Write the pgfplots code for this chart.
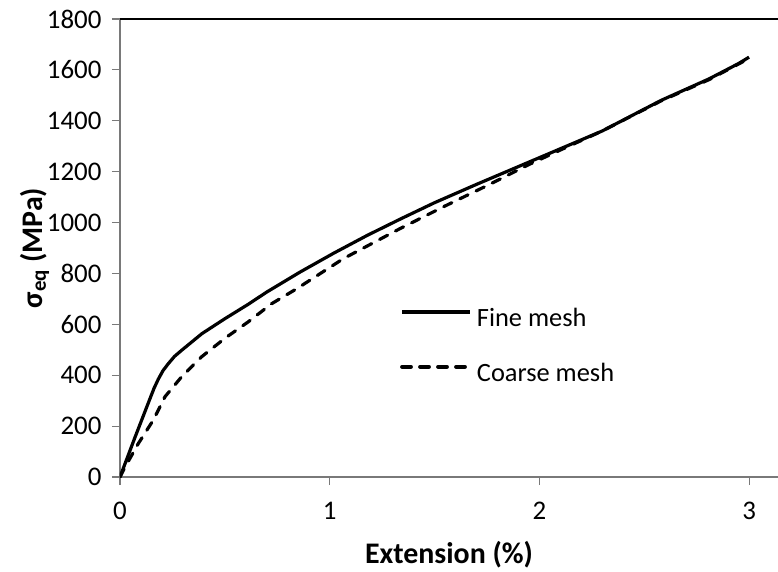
\documentclass[border=0pt]{standalone}
\usepackage{pgfplots}
\pgfplotsset{compat=1.18}
\usepackage{fontspec}
\setmainfont{Carlito}

% Equivalent stress against extension for two mesh densities
\pgfplotstableread{
x y
0.000 0
0.072 157
0.143 308
0.163 350
0.183 385
0.205 418
0.231 446
0.260 474
0.294 498
0.390 563
0.500 622
0.612 679
0.700 727
0.860 806
1.020 880
1.180 950
1.340 1015
1.500 1078
1.700 1150
1.900 1220
2.100 1290
2.300 1360
2.580 1480
2.810 1565
2.950 1625
3.000 1650
}\finemesh

\pgfplotstableread{
x y
0.000 0
0.024 39
0.087 131
0.159 224
0.215 316
0.294 394
0.390 473
0.500 545
0.612 610
0.723 681
0.843 740
1.065 858
1.335 976
1.550 1065
1.750 1145
1.950 1228
2.100 1285
2.300 1360
2.580 1478
2.810 1562
3.000 1645
}\coarsemesh

\begin{document}
\begin{tikzpicture}
\begin{axis}[
  scale only axis,
  width=658bp, height=458bp,
  xmin=0, xmax=3.138,
  ymin=0, ymax=1800,
  axis lines=left,
  axis line style={-, draw=gray!95!black, line width=1.1bp},
  xtick={0,1,2,3},
  ytick={0,200,...,1800},
  tick align=outside,
  major tick length=8bp,
  tick style={gray!95!black, line width=1.1bp},
  scaled ticks=false,
  /pgf/number format/1000 sep={},
  /pgf/number format/assume math mode=true,
  tick label style={font=\fontsize{27}{32}\selectfont, black},
  xticklabel style={yshift=-14bp},
  yticklabel shift=7bp,
  xlabel={\textbf{Extension (\%)}},
  ylabel={\textbf{σ\textsubscript{eq} (MPa)}},
  label style={font=\fontsize{30}{35}\selectfont},
  xlabel style={yshift=-14bp},
  ylabel style={yshift=-9bp},
  legend style={draw=none, fill=none, inner sep=0pt,
    at={(axis cs:1.335,668)}, anchor=north west,
    font=\fontsize{26.5}{31}\selectfont,
    nodes={inner sep=0pt, text height=19bp, text depth=6bp},
    row sep=30bp,
    /tikz/every odd column/.append style={column sep=5bp}},
  legend cell align=left,
  legend image code/.code={\draw[#1, line width=3.8bp] (0bp,8bp) -- (68bp,8bp);},
]
\addplot[black, line width=3.2bp, line join=round] table[x=x, y=y] {\finemesh};
\addlegendentry{Fine mesh}
\addplot[black, line width=3.2bp, line cap=round, dash pattern=on 9bp off 9bp] table[x=x, y=y] {\coarsemesh};
\addlegendentry{Coarse mesh}
\draw[black, line width=1.5bp] (rel axis cs:0,1) -- (rel axis cs:1,1);
\coordinate (ll) at (rel axis cs:0,0);
\coordinate (ur) at (rel axis cs:1,1);
\end{axis}
\pgfresetboundingbox
\path ([shift={(-120bp,-95bp)}]ll) rectangle ([shift={(0bp,19bp)}]ur);
\end{tikzpicture}
\end{document}
